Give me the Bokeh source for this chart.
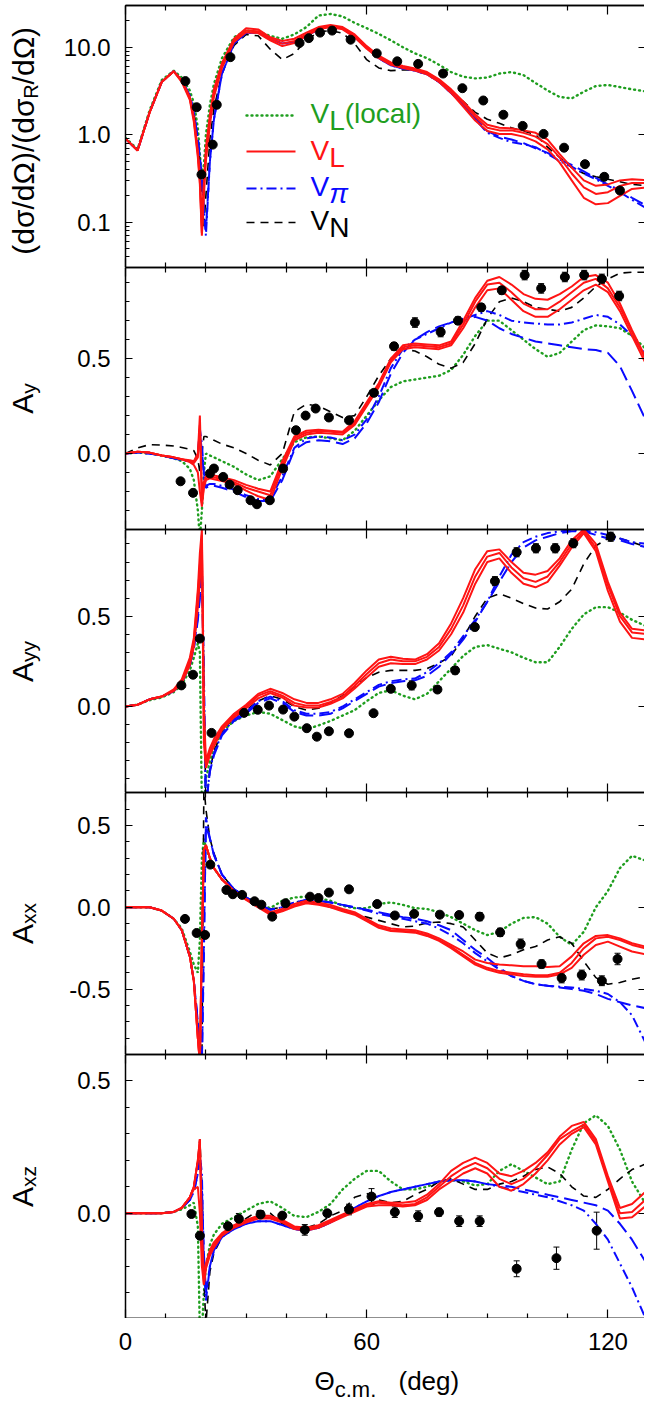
import math
from bokeh.plotting import figure
from bokeh.models import (Range1d, LinearAxis, FixedTicker, PrintfTickFormatter,
                          Label, Whisker, TeeHead, ColumnDataSource, Arrow)
from bokeh.layouts import column, row
from bokeh.embed import file_html
from bokeh.resources import INLINE

# ---------------- data ----------------
THETA = [0, 3, 6, 9, 12, 14, 16, 17, 18, 18.5,
         19, 19.5, 20, 21, 22, 24, 27, 30, 33, 36,
         39, 42, 45, 48, 51, 54, 57, 60, 63, 66,
         69, 72, 75, 78, 81, 84, 87, 90, 93, 96,
         99, 102, 105, 108, 111, 114, 117, 120, 123, 126,
         130]

# panel 1: (dsig/dOmega)/(dsig_R/dOmega)
ds_loc = [0.92, 0.68, 1.9, 4.2, 5.4, 4.5, 3.2, 2.3, 1.2, 0.6,
          0.35, 0.45, 1.0, 2.2, 3.8, 7.5, 13.0, 15.5, 15.0, 13.5,
          12.5, 14.0, 17.0, 23.0, 24.0, 22.5, 19.0, 16.5, 14.2, 12.0,
          10.0, 8.5, 7.5, 6.3, 5.2, 4.6, 4.4, 4.5, 5.0, 5.2,
          4.8, 3.9, 3.2, 2.7, 2.6, 3.1, 3.6, 3.7, 3.5, 3.3,
          3.1]
ds_red_hi = [0.9, 0.66, 1.8, 4.0, 5.3, 4.2, 2.7, 1.6, 0.65, 0.35,
             0.09, 0.3, 0.7, 1.7, 3.3, 6.6, 12.5, 16.5, 16.0, 13.0,
             11.8, 12.5, 14.7, 17.0, 18.0, 17.0, 14.0, 10.3, 8.0, 6.7,
             6.1, 5.7, 5.2, 4.3, 3.3, 2.4, 1.7, 1.3, 1.2, 1.18,
             1.12, 1.05, 0.88, 0.6, 0.42, 0.3, 0.26, 0.27, 0.3, 0.31,
             0.3]
ds_red_mid = [0.9, 0.66, 1.8, 4.0, 5.3, 4.1, 2.6, 1.5, 0.6, 0.3,
              0.075, 0.25, 0.6, 1.5, 3.0, 6.2, 12.0, 15.5, 15.2, 12.5,
              11.0, 11.8, 14.0, 16.5, 17.5, 16.5, 13.5, 10.0, 7.8, 6.5,
              6.0, 5.6, 5.1, 4.2, 3.2, 2.3, 1.6, 1.2, 1.12, 1.12,
              1.05, 0.95, 0.78, 0.55, 0.36, 0.25, 0.21, 0.22, 0.26, 0.28,
              0.28]
ds_red_lo = [0.9, 0.66, 1.8, 4.0, 5.3, 4.0, 2.5, 1.4, 0.55, 0.27,
             0.07, 0.2, 0.5, 1.3, 2.7, 5.8, 11.5, 14.8, 14.5, 12.0,
             10.3, 11.2, 13.5, 16.0, 17.0, 16.0, 13.0, 9.6, 7.5, 6.3,
             5.8, 5.4, 4.9, 4.0, 3.0, 2.1, 1.45, 1.1, 1.02, 1.02,
             0.95, 0.84, 0.68, 0.48, 0.3, 0.19, 0.16, 0.165, 0.2, 0.24,
             0.25]
ds_pi_dd = [0.9, 0.66, 1.8, 4.0, 5.3, 4.2, 2.8, 1.8, 0.9, 0.55,
            0.3, 0.14, 0.07, 0.5, 1.5, 5.0, 11.0, 14.5, 14.8, 12.5,
            11.0, 11.5, 13.5, 16.0, 17.5, 16.5, 13.0, 10.0, 7.5, 6.2,
            5.7, 5.4, 4.9, 4.0, 3.0, 2.2, 1.5, 1.05, 0.92, 0.82,
            0.78, 0.72, 0.6, 0.5, 0.43, 0.36, 0.31, 0.26, 0.22, 0.18,
            0.14]
ds_pi_ld = [0.9, 0.66, 1.8, 4.0, 5.3, 4.2, 2.8, 1.8, 0.9, 0.55,
            0.3, 0.14, 0.08, 0.5, 1.5, 5.0, 11.0, 14.5, 14.8, 12.5,
            11.0, 11.5, 13.5, 16.0, 17.5, 16.5, 13.0, 10.0, 7.5, 6.2,
            5.7, 5.4, 4.9, 4.0, 3.0, 2.2, 1.55, 1.1, 0.95, 0.88,
            0.8, 0.7, 0.62, 0.52, 0.45, 0.38, 0.32, 0.27, 0.23, 0.19,
            0.15]
ds_N = [0.9, 0.66, 1.8, 4.0, 5.3, 4.2, 2.8, 1.8, 0.9, 0.5,
        0.2, 0.09, 0.2, 0.9, 2.0, 5.0, 10.5, 14.0, 13.5, 9.5,
        7.2, 8.5, 12.0, 15.0, 15.5, 14.5, 11.0, 7.2, 5.8, 5.4,
        5.5, 5.5, 5.0, 4.2, 3.2, 2.4, 1.8, 1.5, 1.35, 1.2,
        1.1, 1.0, 0.72, 0.55, 0.42, 0.36, 0.33, 0.31, 0.29, 0.27,
        0.26]
ds_exp_x = [14.9, 17.7, 18.9, 21.7, 22.7, 26.1, 43.3, 45.6, 48.4, 51.4, 56.0, 62.5,
            67.6, 72.8, 79.0, 83.8, 89.0, 94.0, 98.8, 104.0, 109.1, 114.3, 119.1, 123.0]
ds_exp_y = [4.1, 2.06, 0.35, 0.77, 2.2, 7.7, 11.2, 12.7, 14.7, 15.5, 12.2, 8.5,
            6.9, 6.45, 5.0, 3.4, 2.46, 1.69, 1.26, 1.02, 0.71, 0.46, 0.33, 0.23]

# panel 2: Ay
ay_loc = [0.0, 0.005, 0.0, -0.01, -0.025, -0.04, -0.08, -0.14, -0.3, -0.45,
          -0.3, -0.1, 0.0, -0.01, -0.02, -0.04, -0.07, -0.11, -0.14, -0.12,
          -0.03, 0.06, 0.085, 0.09, 0.08, 0.07, 0.12, 0.2, 0.28, 0.35,
          0.38, 0.39, 0.4, 0.41, 0.44, 0.52, 0.62, 0.7, 0.7, 0.65,
          0.6, 0.55, 0.51, 0.53, 0.59, 0.65, 0.675, 0.67, 0.66, 0.62,
          0.54]
ay_red_hi = [0.0, 0.01, 0.005, -0.01, -0.02, -0.03, -0.035, -0.04, 0.0, 0.2,
             -0.2, -0.15, -0.12, -0.11, -0.115, -0.125, -0.14, -0.165, -0.185, -0.2,
             -0.04, 0.09, 0.12, 0.125, 0.12, 0.115, 0.17, 0.27, 0.37, 0.5,
             0.57, 0.58, 0.575, 0.57, 0.59, 0.7, 0.82, 0.91, 0.93, 0.89,
             0.84, 0.815, 0.81, 0.84, 0.88, 0.93, 0.94, 0.9, 0.79, 0.65,
             0.48]
ay_red_mid = [0.0, 0.01, 0.005, -0.01, -0.02, -0.03, -0.04, -0.05, -0.02, 0.15,
              -0.26, -0.17, -0.13, -0.12, -0.125, -0.135, -0.15, -0.18, -0.2, -0.22,
              -0.06, 0.08, 0.11, 0.12, 0.115, 0.11, 0.16, 0.26, 0.36, 0.49,
              0.56, 0.57, 0.565, 0.56, 0.58, 0.68, 0.8, 0.89, 0.9, 0.85,
              0.79, 0.76, 0.76, 0.8, 0.85, 0.9, 0.92, 0.87, 0.77, 0.64,
              0.47]
ay_red_lo = [0.0, 0.01, 0.005, -0.01, -0.02, -0.03, -0.045, -0.06, -0.1, -0.2,
             -0.28, -0.18, -0.14, -0.13, -0.135, -0.145, -0.16, -0.195, -0.225, -0.245,
             -0.08, 0.07, 0.1, 0.11, 0.105, 0.1, 0.15, 0.25, 0.35, 0.48,
             0.55, 0.56, 0.555, 0.55, 0.57, 0.66, 0.77, 0.86, 0.87, 0.81,
             0.75, 0.72, 0.72, 0.76, 0.81, 0.86, 0.89, 0.85, 0.75, 0.62,
             0.45]
ay_pi_dd = [0.0, 0.005, 0.0, -0.01, -0.025, -0.035, -0.04, -0.04, 0.0, 0.13,
            0.05, -0.1, -0.17, -0.16, -0.16, -0.17, -0.19, -0.22, -0.24, -0.24,
            -0.12, 0.03, 0.08, 0.09, 0.085, 0.07, 0.1, 0.18, 0.3, 0.45,
            0.55, 0.6, 0.63, 0.66, 0.69, 0.71, 0.73, 0.75, 0.73, 0.7,
            0.69, 0.685, 0.68, 0.68, 0.69, 0.71, 0.73, 0.72, 0.68, 0.62,
            0.5]
ay_pi_ld = [0.0, 0.005, 0.0, -0.01, -0.025, -0.035, -0.04, -0.045, -0.01, 0.1,
            0.02, -0.12, -0.18, -0.17, -0.17, -0.18, -0.2, -0.23, -0.25, -0.25,
            -0.14, 0.02, 0.06, 0.07, 0.065, 0.05, 0.08, 0.16, 0.27, 0.42,
            0.53, 0.6, 0.64, 0.67, 0.69, 0.7, 0.72, 0.7, 0.66, 0.63,
            0.61, 0.59, 0.58, 0.57, 0.56, 0.55, 0.545, 0.53, 0.46, 0.33,
            0.15]
ay_N = [0.0, 0.03, 0.047, 0.045, 0.04, 0.032, 0.022, 0.015, -0.03, -0.1,
        0.0, 0.09, 0.09, 0.08, 0.07, 0.05, 0.03, 0.0, -0.035, -0.06,
        0.0, 0.22, 0.26, 0.25, 0.22, 0.19, 0.2, 0.3, 0.41, 0.5,
        0.55, 0.54, 0.51, 0.47, 0.45, 0.48, 0.58, 0.71, 0.8, 0.82,
        0.8, 0.77, 0.76, 0.75, 0.77, 0.82, 0.88, 0.92, 0.95, 0.955,
        0.955]
ay_exp_x = [13.7, 16.8, 21.0, 22.0, 24.3, 25.9, 27.9, 31.1, 32.7, 35.9, 39.2, 42.4, 44.8, 47.3, 50.6,
            55.6, 61.8, 66.8, 72.0, 78.4, 82.7, 88.5, 93.6, 99.3, 103.4, 109.3, 114.1, 118.5, 122.8]
ay_exp_y = [-0.146, -0.207, -0.105, -0.079, -0.123, -0.163, -0.193, -0.246, -0.267, -0.246, -0.079, 0.123, 0.20, 0.237, 0.19,
            0.175, 0.32, 0.565, 0.69, 0.64, 0.70, 0.77, 0.86, 0.94, 0.87, 0.93, 0.94, 0.92, 0.83]
ay_exp_e = [0.01, 0.01, 0.01, 0.01, 0.01, 0.01, 0.01, 0.01, 0.01, 0.01, 0.01, 0.01, 0.01, 0.01, 0.01,
            0.01, 0.015, 0.02, 0.025, 0.025, 0.02, 0.02, 0.02, 0.025, 0.025, 0.025, 0.025, 0.025, 0.025]

# panel 3: Ayy
ayy_loc = [0.0, 0.01, 0.035, 0.05, 0.08, 0.12, 0.2, 0.27, 0.35, 0.3,
           -0.55, -0.55, -0.4, -0.3, -0.23, -0.14, -0.08, -0.05, -0.03, -0.04,
           -0.075, -0.11, -0.125, -0.105, -0.08, -0.05, -0.02, 0.03, 0.075, 0.09,
           0.06, 0.04, 0.07, 0.14, 0.21, 0.28, 0.33, 0.34, 0.32, 0.3,
           0.27, 0.245, 0.245, 0.33, 0.43, 0.51, 0.55, 0.55, 0.52, 0.48,
           0.44]
ayy_red_hi = [0.0, 0.01, 0.04, 0.055, 0.095, 0.15, 0.27, 0.38, 0.65, 0.85,
              0.98, 0.0, -0.3, -0.23, -0.18, -0.11, -0.04, 0.01, 0.07, 0.098,
              0.075, 0.04, 0.02, 0.02, 0.04, 0.07, 0.13, 0.2, 0.26, 0.275,
              0.265, 0.26, 0.29, 0.35, 0.46, 0.6, 0.76, 0.86, 0.87, 0.8,
              0.74, 0.73, 0.75, 0.82, 0.92, 0.98, 0.9, 0.69, 0.52, 0.43,
              0.42]
ayy_red_mid = [0.0, 0.01, 0.04, 0.055, 0.09, 0.14, 0.25, 0.36, 0.62, 0.78,
               0.95, -0.1, -0.32, -0.25, -0.2, -0.12, -0.05, 0.0, 0.06, 0.085,
               0.06, 0.02, 0.005, 0.005, 0.025, 0.055, 0.115, 0.18, 0.24, 0.26,
               0.25, 0.25, 0.275, 0.33, 0.43, 0.56, 0.72, 0.83, 0.85, 0.77,
               0.71, 0.69, 0.72, 0.8, 0.9, 0.97, 0.88, 0.67, 0.5, 0.41,
               0.4]
ayy_red_lo = [0.0, 0.01, 0.04, 0.055, 0.085, 0.13, 0.23, 0.33, 0.55, 0.7,
              0.9, -0.2, -0.34, -0.27, -0.22, -0.13, -0.06, -0.01, 0.045, 0.075,
              0.05, 0.005, -0.005, -0.005, 0.015, 0.045, 0.1, 0.16, 0.22, 0.24,
              0.235, 0.235, 0.26, 0.31, 0.4, 0.52, 0.68, 0.8, 0.82, 0.74,
              0.68, 0.66, 0.69, 0.78, 0.88, 0.96, 0.86, 0.64, 0.47, 0.38,
              0.37]
ayy_pi_dd = [0.0, 0.01, 0.04, 0.055, 0.085, 0.13, 0.23, 0.32, 0.5, 0.62,
             0.8, 0.2, -0.55, -0.35, -0.26, -0.15, -0.07, -0.03, 0.03, 0.055,
             0.03, -0.02, -0.04, -0.04, -0.03, 0.0, 0.04, 0.08, 0.12, 0.14,
             0.15, 0.155, 0.19, 0.24, 0.3, 0.39, 0.48, 0.58, 0.72, 0.84,
             0.91, 0.94, 0.96, 0.97, 0.975, 0.975, 0.965, 0.95, 0.93, 0.91,
             0.9]
ayy_pi_ld = [0.0, 0.01, 0.04, 0.055, 0.085, 0.13, 0.23, 0.32, 0.48, 0.6,
             0.75, 0.1, -0.55, -0.36, -0.27, -0.16, -0.08, -0.04, 0.02, 0.045,
             0.02, -0.03, -0.05, -0.05, -0.04, -0.01, 0.03, 0.07, 0.11, 0.13,
             0.14, 0.145, 0.17, 0.22, 0.29, 0.37, 0.47, 0.58, 0.69, 0.8,
             0.88, 0.92, 0.94, 0.96, 0.97, 0.97, 0.95, 0.93, 0.92, 0.9,
             0.88]
ayy_N = [0.0, 0.01, 0.04, 0.055, 0.085, 0.13, 0.24, 0.34, 0.55, 0.7,
         0.85, 0.1, -0.55, -0.35, -0.25, -0.14, -0.06, -0.02, 0.03, 0.06,
         0.04, 0.0, -0.02, -0.01, 0.02, 0.06, 0.11, 0.16, 0.19, 0.2,
         0.2, 0.2, 0.21, 0.24, 0.28, 0.38, 0.5, 0.6, 0.625, 0.6,
         0.57, 0.545, 0.54, 0.58, 0.65, 0.79, 0.89, 0.93, 0.93, 0.91,
         0.88]
ayy_exp_x = [13.9, 16.8, 18.5, 21.4, 29.5, 32.9, 35.7, 39.2, 42.0, 45.1, 47.6, 50.6,
             55.6, 61.7, 66.0, 71.2, 77.6, 82.0, 86.9, 91.9, 97.3, 102.1, 106.9, 111.4, 120.7]
ayy_exp_y = [0.117, 0.176, 0.376, -0.146, -0.035, -0.018, 0.005, -0.017, -0.056, -0.12, -0.167, -0.137,
             -0.148, -0.037, 0.098, 0.117, 0.094, 0.2, 0.44, 0.694, 0.854, 0.876, 0.876, 0.904, 0.94]
ayy_exp_e = [0.01, 0.01, 0.01, 0.01, 0.01, 0.01, 0.01, 0.01, 0.01, 0.01, 0.01, 0.01,
             0.01, 0.01, 0.015, 0.025, 0.015, 0.02, 0.02, 0.025, 0.025, 0.025, 0.025, 0.025, 0.025]

# panel 4: Axx
axx_loc = [0.0, 0.0, 0.0, -0.02, -0.07, -0.13, -0.27, -0.35, -0.4, -0.2,
           0.3, 0.42, 0.36, 0.3, 0.24, 0.17, 0.11, 0.06, 0.02, -0.005,
           0.04, 0.06, 0.065, 0.055, 0.04, 0.01, -0.005, -0.005, 0.02, 0.03,
           0.015, -0.005, -0.01, -0.03, -0.06, -0.1, -0.14, -0.17, -0.15, -0.1,
           -0.065, -0.06, -0.1, -0.18, -0.23, -0.15, 0.0, 0.1, 0.24, 0.315,
           0.28]
axx_red_hi = [0.0, 0.0, 0.0, -0.02, -0.07, -0.14, -0.3, -0.45, -0.8, -0.95,
              -0.2, 0.35, 0.38, 0.3, 0.24, 0.17, 0.1, 0.05, 0.01, -0.03,
              -0.01, 0.02, 0.04, 0.03, 0.015, -0.01, -0.03, -0.07, -0.11, -0.13,
              -0.135, -0.14, -0.16, -0.19, -0.23, -0.27, -0.32, -0.34, -0.35, -0.355,
              -0.36, -0.36, -0.365, -0.36, -0.3, -0.22, -0.175, -0.17, -0.19, -0.22,
              -0.245]
axx_red_mid = [0.0, 0.0, 0.0, -0.02, -0.07, -0.14, -0.3, -0.45, -0.8, -0.95,
               -0.2, 0.35, 0.38, 0.3, 0.24, 0.17, 0.1, 0.05, 0.005, -0.04,
               -0.02, 0.01, 0.03, 0.02, 0.005, -0.02, -0.04, -0.08, -0.12, -0.14,
               -0.145, -0.15, -0.17, -0.2, -0.24, -0.29, -0.34, -0.37, -0.39, -0.4,
               -0.41, -0.415, -0.415, -0.4, -0.34, -0.25, -0.19, -0.18, -0.2, -0.23,
               -0.255]
axx_red_lo = [0.0, 0.0, 0.0, -0.02, -0.07, -0.14, -0.3, -0.45, -0.8, -0.95,
              -0.2, 0.35, 0.38, 0.3, 0.24, 0.17, 0.1, 0.045, 0.0, -0.045,
              -0.025, 0.005, 0.025, 0.015, 0.0, -0.025, -0.045, -0.085, -0.125, -0.145,
              -0.15, -0.155, -0.175, -0.205, -0.25, -0.3, -0.35, -0.38, -0.4, -0.41,
              -0.42, -0.425, -0.425, -0.41, -0.37, -0.29, -0.23, -0.21, -0.24, -0.27,
              -0.29]
axx_pi_dd = [0.0, 0.0, 0.0, -0.02, -0.07, -0.14, -0.3, -0.45, -0.7, -0.85,
             -0.95, -0.3, 0.55, 0.42, 0.32, 0.2, 0.11, 0.06, 0.02, -0.015,
             0.0, 0.03, 0.045, 0.04, 0.03, 0.015, 0.0, -0.02, -0.04, -0.055,
             -0.07, -0.085, -0.1, -0.13, -0.17, -0.22, -0.28, -0.33, -0.38, -0.42,
             -0.45, -0.47, -0.48, -0.485, -0.49, -0.5, -0.51, -0.53, -0.58, -0.66,
             -0.86]
axx_pi_ld = [0.0, 0.0, 0.0, -0.02, -0.07, -0.14, -0.3, -0.45, -0.7, -0.85,
             -0.95, -0.2, 0.5, 0.42, 0.32, 0.2, 0.11, 0.06, 0.02, -0.015,
             0.0, 0.03, 0.045, 0.04, 0.03, 0.015, 0.0, -0.015, -0.03, -0.045,
             -0.06, -0.07, -0.085, -0.11, -0.14, -0.2, -0.26, -0.31, -0.37, -0.42,
             -0.45, -0.47, -0.48, -0.49, -0.5, -0.51, -0.53, -0.56, -0.58, -0.6,
             -0.62]
axx_N = [0.0, 0.0, 0.0, -0.02, -0.07, -0.14, -0.3, -0.45, -0.72, -0.9,
         -0.95, 0.75, 0.6, 0.42, 0.33, 0.2, 0.11, 0.06, 0.02, -0.01,
         0.0, 0.03, 0.04, 0.025, 0.0, -0.02, -0.04, -0.06, -0.08, -0.1,
         -0.12, -0.115, -0.095, -0.09, -0.1, -0.12, -0.2, -0.28, -0.31, -0.29,
         -0.26, -0.24, -0.2, -0.18, -0.22, -0.33, -0.43, -0.47, -0.46, -0.44,
         -0.42]
axx_exp_x = [14.8, 17.7, 19.8, 21.1, 25.1, 26.7, 29.0, 32.1, 33.8, 36.5, 39.8, 45.9, 48.0, 50.6,
             55.6, 62.6, 67.0, 71.8, 78.2, 83.0, 88.1, 93.2, 98.3, 103.5, 108.5, 113.5, 118.5, 122.4]
axx_exp_y = [-0.071, -0.157, -0.169, 0.261, 0.106, 0.08, 0.076, 0.037, 0.016, -0.057, 0.025, 0.065, 0.057, 0.09,
             0.11, 0.02, -0.05, -0.04, -0.045, -0.047, -0.057, -0.153, -0.224, -0.347, -0.432, -0.414, -0.449, -0.316]
axx_exp_e = [0.01, 0.01, 0.01, 0.01, 0.01, 0.01, 0.01, 0.01, 0.01, 0.01, 0.01, 0.01, 0.01, 0.01,
             0.01, 0.01, 0.01, 0.01, 0.015, 0.02, 0.025, 0.025, 0.03, 0.025, 0.03, 0.03, 0.03, 0.035]

# panel 5: Axz
axz_loc = [0.0, 0.0, 0.0, 0.0, 0.005, 0.015, 0.03, 0.04, -0.05, -0.45,
           -0.45, -0.3, -0.2, -0.12, -0.08, -0.04, -0.015, 0.01, 0.035, 0.045,
           0.02, -0.01, -0.015, 0.005, 0.035, 0.09, 0.13, 0.16, 0.16, 0.12,
           0.09, 0.09, 0.1, 0.12, 0.125, 0.12, 0.105, 0.11, 0.16, 0.185,
           0.16, 0.135, 0.11, 0.12, 0.24, 0.34, 0.37, 0.33, 0.24, 0.12,
           0.02]
axz_red_hi = [0.0, 0.0, 0.0, 0.0, 0.005, 0.02, 0.06, 0.1, 0.2, 0.28,
              -0.05, -0.25, -0.19, -0.14, -0.11, -0.075, -0.045, -0.025, -0.01, -0.01,
              -0.025, -0.05, -0.055, -0.045, -0.025, -0.005, 0.015, 0.035, 0.045, 0.04,
              0.04, 0.045, 0.07, 0.11, 0.16, 0.19, 0.21, 0.19, 0.15, 0.14,
              0.16, 0.19, 0.23, 0.29, 0.33, 0.345, 0.28, 0.14, 0.02, 0.035,
              0.09]
axz_red_mid = [0.0, 0.0, 0.0, 0.0, 0.005, 0.02, 0.06, 0.1, 0.2, 0.28,
               -0.1, -0.27, -0.2, -0.15, -0.12, -0.08, -0.05, -0.03, -0.015, -0.015,
               -0.03, -0.055, -0.06, -0.05, -0.03, -0.01, 0.01, 0.03, 0.04, 0.035,
               0.03, 0.035, 0.06, 0.1, 0.14, 0.17, 0.19, 0.17, 0.13, 0.11,
               0.13, 0.17, 0.22, 0.28, 0.31, 0.335, 0.27, 0.13, 0.0, 0.005,
               0.06]
axz_red_lo = [0.0, 0.0, 0.0, 0.0, 0.005, 0.02, 0.06, 0.09, 0.1, 0.0,
              -0.2, -0.27, -0.21, -0.16, -0.13, -0.085, -0.055, -0.035, -0.02, -0.02,
              -0.035, -0.06, -0.065, -0.055, -0.035, -0.015, 0.005, 0.025, 0.03, 0.03,
              0.025, 0.03, 0.05, 0.09, 0.12, 0.15, 0.17, 0.15, 0.1, 0.085,
              0.11, 0.15, 0.2, 0.26, 0.3, 0.325, 0.26, 0.12, -0.02, -0.015,
              0.035]
axz_pi_dd = [0.0, 0.0, 0.0, 0.0, 0.005, 0.02, 0.05, 0.08, 0.15, 0.22,
             0.15, -0.2, -0.33, -0.2, -0.14, -0.09, -0.06, -0.04, -0.03, -0.03,
             -0.045, -0.06, -0.065, -0.055, -0.035, -0.01, 0.02, 0.045, 0.065, 0.08,
             0.09, 0.1, 0.11, 0.12, 0.125, 0.125, 0.12, 0.11, 0.1, 0.09,
             0.08, 0.07, 0.06, 0.045, 0.03, 0.01, -0.04, -0.1, -0.19, -0.28,
             -0.42]
axz_pi_ld = [0.0, 0.0, 0.0, 0.0, 0.005, 0.02, 0.05, 0.08, 0.15, 0.2,
             0.1, -0.15, -0.3, -0.2, -0.14, -0.09, -0.06, -0.04, -0.03, -0.03,
             -0.045, -0.06, -0.065, -0.055, -0.035, -0.01, 0.02, 0.045, 0.065, 0.08,
             0.09, 0.1, 0.11, 0.12, 0.125, 0.125, 0.12, 0.11, 0.105, 0.1,
             0.09, 0.08, 0.07, 0.06, 0.05, 0.04, 0.03, 0.01, -0.04, -0.1,
             -0.2]
axz_N = [0.0, 0.0, 0.0, 0.0, 0.005, 0.02, 0.06, 0.1, 0.2, 0.28,
         0.1, -0.25, -0.42, -0.22, -0.15, -0.09, -0.05, -0.02, 0.01, 0.0,
         -0.04, -0.055, -0.055, -0.04, -0.01, 0.01, 0.06, 0.075, 0.05, 0.04,
         0.045, 0.07, 0.09, 0.12, 0.13, 0.11, 0.09, 0.09, 0.11, 0.12,
         0.14, 0.165, 0.175, 0.15, 0.1, 0.065, 0.06, 0.09, 0.13, 0.165,
         0.19]
axz_exp_x = [16.4, 18.5, 25.5, 28.2, 33.6, 39.0, 44.6, 50.2, 55.6, 61.2, 67.0, 72.8, 78.0, 83.0, 88.1,
             97.3, 107.2, 117.2]
axz_exp_y = [-0.003, -0.085, -0.049, -0.021, -0.005, -0.009, -0.063, 0.0, 0.014, 0.063, 0.004, -0.011, 0.004,
             -0.03, -0.03, -0.21, -0.17, -0.066]
axz_exp_e = [0.005, 0.005, 0.01, 0.02, 0.015, 0.01, 0.02, 0.01, 0.02, 0.03, 0.02, 0.02, 0.015, 0.02, 0.02,
             0.03, 0.042, 0.07]

X_MAJOR = [0, 60, 120]
X_MINOR = [10, 20, 30, 40, 50, 70, 80, 90, 100, 110]

# ---------------- styling / layout ----------------
FONT = "Liberation Sans"
GREEN = "#1f9e1f"
RED = "#ff1414"
BLUE = "#0a0aff"
PX_PER_DEG = 4.02
FRAME_W = 519
XMAX = FRAME_W / PX_PER_DEG
FRAME_LEFT_PAGE = 125
LABEL_W = 60
FOOT_H = 84
MID = 0.35  # distance (em) from the alphabetic baseline to the middle of the text box

W = {"(": 0.333, ")": 0.333, "d": 0.556, "σ": 0.602, "/": 0.278, "Ω": 0.768, "R": 0.722,
     "A": 0.667, "x": 0.5, "y": 0.5, "z": 0.5, "V": 0.667, "L": 0.556, "N": 0.722,
     "π": 0.556, "Θ": 0.778, "c": 0.5, "m": 0.833, ".": 0.278, "e": 0.556, "g": 0.556,
     "l": 0.222, "o": 0.556, "a": 0.556, " ": 0.278}


def tw(s, size):
    return sum(W.get(ch, 0.556) for ch in s) * size


def tick_axis(ax, ticks, length):
    """axis drawing only inward ticks (as minor ticks, so no labels)."""
    ax.ticker = FixedTicker(ticks=[], minor_ticks=ticks)
    ax.axis_line_color = "black"
    ax.axis_line_width = 1.5
    ax.major_tick_in = 0
    ax.major_tick_out = 0
    ax.minor_tick_in = length
    ax.minor_tick_out = 0
    ax.minor_tick_line_color = "black"
    ax.minor_tick_line_width = 1.2
    ax.major_label_standoff = 0


def label_axis(ax, major, minor, maj_len, min_len, standoff):
    ax.ticker = FixedTicker(ticks=major, minor_ticks=minor)
    ax.axis_line_color = "black"
    ax.axis_line_width = 1.5
    ax.major_tick_in = maj_len
    ax.major_tick_out = 0
    ax.minor_tick_in = min_len
    ax.minor_tick_out = 0
    ax.major_tick_line_color = "black"
    ax.minor_tick_line_color = "black"
    ax.major_tick_line_width = 1.2
    ax.minor_tick_line_width = 1
    ax.major_label_text_font = FONT
    ax.major_label_text_font_size = "24px"
    ax.major_label_text_color = "black"
    ax.major_label_standoff = standoff


def make_panel(yr, h, ymaj, ymin, log=False, top_border=0):
    p = figure(frame_width=FRAME_W, frame_height=h,
               x_range=Range1d(0, XMAX), y_range=Range1d(*yr),
               y_axis_type="log" if log else "linear",
               output_backend="svg", toolbar_location=None,
               min_border_left=FRAME_LEFT_PAGE - LABEL_W, min_border_right=0,
               min_border_top=top_border, min_border_bottom=0,
               background_fill_color="white", border_fill_color="white",
               outline_line_color=None)
    p.grid.visible = False
    tick_axis(p.xaxis[0], X_MAJOR, 9)
    b2 = LinearAxis()
    tick_axis(b2, X_MINOR, 5)
    p.add_layout(b2, "below")
    label_axis(p.yaxis[0], ymaj, ymin, 7, 4, 15)
    p.yaxis.formatter = PrintfTickFormatter(format="%.1f")
    t1 = LinearAxis()
    tick_axis(t1, X_MAJOR, 9)
    p.add_layout(t1, "above")
    t2 = LinearAxis()
    tick_axis(t2, X_MINOR, 5)
    p.add_layout(t2, "above")
    r = LinearAxis()
    tick_axis(r, ymaj, 6)
    r.axis_line_color = None
    p.add_layout(r, "right")
    return p


def draw(p, loc, rhi, rmid, rlo, pdd, pld, nn, ex, ey, ee=None):
    p.line(THETA, loc, line_color=GREEN, line_width=2.4, line_dash="1 4", line_cap="round")
    p.line(THETA, nn, line_color="black", line_width=1.6, line_dash="8 6")
    p.line(THETA, pld, line_color=BLUE, line_width=2.0, line_dash="14 6")
    p.line(THETA, pdd, line_color=BLUE, line_width=2.0, line_dash="10 4 2 4")
    for r in (rhi, rmid, rlo):
        p.line(THETA, r, line_color=RED, line_width=2.0)
    if ee is not None:
        src = ColumnDataSource(dict(x=ex, lo=[a - b for a, b in zip(ey, ee)],
                                    hi=[a + b for a, b in zip(ey, ee)]))
        p.add_layout(Whisker(base="x", lower="lo", upper="hi", source=src,
                             line_color="black", line_width=1,
                             lower_head=TeeHead(size=6, line_color="black", line_width=1),
                             upper_head=TeeHead(size=6, line_color="black", line_width=1)))
    p.scatter(ex, ey, size=9, color="black")


def blank(w, h):
    f = figure(frame_width=w, frame_height=h, x_range=Range1d(0, 1), y_range=Range1d(0, 1),
               x_axis_location=None, y_axis_location=None,
               output_backend="svg", toolbar_location=None,
               min_border_left=0, min_border_right=0, min_border_top=0, min_border_bottom=0,
               outline_line_color=None, background_fill_color="white", border_fill_color="white")
    f.grid.visible = False
    return f


def vlabel(f, pieces, cy, fb):
    """rotated label from pieces (text, size, baseline page-x); f frame starts at page x 0."""
    total = sum(tw(t, s) for t, s, bx in pieces)
    y = cy + total / 2
    for t, s, bx in pieces:
        f.add_layout(Label(x=bx - MID * s, y=fb - y, x_units="screen", y_units="screen",
                           text=t, angle=math.pi / 2, text_font=FONT, text_font_size=f"{s}px",
                           text_align="left", text_baseline="middle", text_color="black"))
        y -= tw(t, s)


def hlabel(f, pieces, x0, fl, fb, color):
    """horizontal label from pieces (text, size, baseline page-y, italic)."""
    x = x0
    for t, s, by, ital in pieces:
        f.add_layout(Label(x=x - fl, y=fb - (by - MID * s), x_units="screen", y_units="screen",
                           text=t, text_font=FONT, text_font_size=f"{s}px",
                           text_font_style="italic" if ital else "normal",
                           text_align="left", text_baseline="middle", text_color=color))
        x += tw(t, s)


# frames (page y): 5-267, 267-529, 529-792, 792-1054, 1054-1318, footer 1318-1402
p1 = make_panel((0.0303, 30.0), 262, [0.1, 1, 10],
                [0.04, 0.05, 0.06, 0.07, 0.08, 0.09, 0.2, 0.3, 0.4, 0.5, 0.6, 0.7, 0.8, 0.9,
                 2, 3, 4, 5, 6, 7, 8, 9, 20, 30], log=True, top_border=5)
draw(p1, ds_loc, ds_red_hi, ds_red_mid, ds_red_lo, ds_pi_dd, ds_pi_ld, ds_N, ds_exp_x, ds_exp_y)
l1 = blank(LABEL_W, 267)
vlabel(l1, [("(dσ/dΩ)/(dσ", 30, 33), ("R", 20, 37), ("/dΩ)", 30, 33)], 135, 267)

# legend (panel 1)
LEG = [(GREEN, "1 4", 2.4, 115, [("V", 28, 123, False), ("L", 28, 130, False), ("(local)", 28, 123, False)]),
       (RED, None, 2.0, 151, [("V", 28, 160, False), ("L", 28, 167, False)]),
       (BLUE, "10 4 2 4", 2.0, 188, [("V", 28, 196, False), ("π", 28, 203, True)]),
       ("black", "8 6", 1.6, 222, [("V", 28, 230, False), ("N", 28, 237, False)])]
for col, dash, lw, ly, pieces in LEG:
    kw = dict(line_dash=dash) if dash else {}
    p1.add_layout(Arrow(end=None, start=None, x_start=246 - FRAME_LEFT_PAGE, y_start=267 - ly,
                        x_end=295 - FRAME_LEFT_PAGE, y_end=267 - ly,
                        start_units="screen", end_units="screen",
                        line_color=col, line_width=lw, line_cap="round" if dash == "1 4" else "butt", **kw))
    hlabel(p1, pieces, 310, FRAME_LEFT_PAGE, 267, col)

p2 = make_panel((-0.4, 0.98), 262, [0.0, 0.5],
                [-0.3, -0.2, -0.1, 0.1, 0.2, 0.3, 0.4, 0.6, 0.7, 0.8, 0.9])
draw(p2, ay_loc, ay_red_hi, ay_red_mid, ay_red_lo, ay_pi_dd, ay_pi_ld, ay_N, ay_exp_x, ay_exp_y, ay_exp_e)
l2 = blank(LABEL_W, 262)
vlabel(l2, [("A", 30, 32), ("y", 21, 35)], 398 - 267, 262)

p3 = make_panel((-0.476, 0.98), 263, [0.0, 0.5],
                [-0.4, -0.3, -0.2, -0.1, 0.1, 0.2, 0.3, 0.4, 0.6, 0.7, 0.8, 0.9])
draw(p3, ayy_loc, ayy_red_hi, ayy_red_mid, ayy_red_lo, ayy_pi_dd, ayy_pi_ld, ayy_N, ayy_exp_x, ayy_exp_y, ayy_exp_e)
l3 = blank(LABEL_W, 263)
vlabel(l3, [("A", 30, 32), ("yy", 21, 35)], 661 - 529, 263)

p4 = make_panel((-0.9, 0.702), 262, [-0.5, 0.0, 0.5],
                [-0.8, -0.7, -0.6, -0.4, -0.3, -0.2, -0.1, 0.1, 0.2, 0.3, 0.4, 0.6, 0.7])
draw(p4, axx_loc, axx_red_hi, axx_red_mid, axx_red_lo, axx_pi_dd, axx_pi_ld, axx_N, axx_exp_x, axx_exp_y, axx_exp_e)
l4 = blank(LABEL_W, 262)
vlabel(l4, [("A", 30, 32), ("xx", 21, 35)], 923 - 792, 262)

p5 = make_panel((-0.398, 0.6), 264, [0.0, 0.5],
                [-0.3, -0.2, -0.1, 0.1, 0.2, 0.3, 0.4])
draw(p5, axz_loc, axz_red_hi, axz_red_mid, axz_red_lo, axz_pi_dd, axz_pi_ld, axz_N, axz_exp_x, axz_exp_y, axz_exp_e)
l5 = blank(LABEL_W, 264)
vlabel(l5, [("A", 30, 32), ("xz", 21, 35)], 1186 - 1054, 264)

# footer: x tick labels (real axis on the same x scale, frame spans the full width) and title
foot = figure(frame_width=FRAME_LEFT_PAGE + FRAME_W, frame_height=FOOT_H,
              x_range=Range1d(-FRAME_LEFT_PAGE / PX_PER_DEG, XMAX), y_range=Range1d(0, 1),
              x_axis_location=None, y_axis_location=None,
              output_backend="svg", toolbar_location=None,
              min_border_left=0, min_border_right=0, min_border_top=0, min_border_bottom=0,
              outline_line_color=None, background_fill_color="white", border_fill_color="white")
foot.grid.visible = False
xlab = LinearAxis(fixed_location=1)
label_axis(xlab, X_MAJOR, [], 0, 0, 14)
xlab.axis_line_color = None
foot.add_layout(xlab, "below")
hlabel(foot, [("Θ", 26, 1390, False), ("c.m.", 22, 1397, False)], 314, 0, 1402, "black")
hlabel(foot, [("(deg)", 26, 1390, False)], 398, 0, 1402, "black")

layout = column(row(l1, p1), row(l2, p2), row(l3, p3), row(l4, p4), row(l5, p5), foot)

open("out.html", "w").write(file_html(layout, INLINE))
